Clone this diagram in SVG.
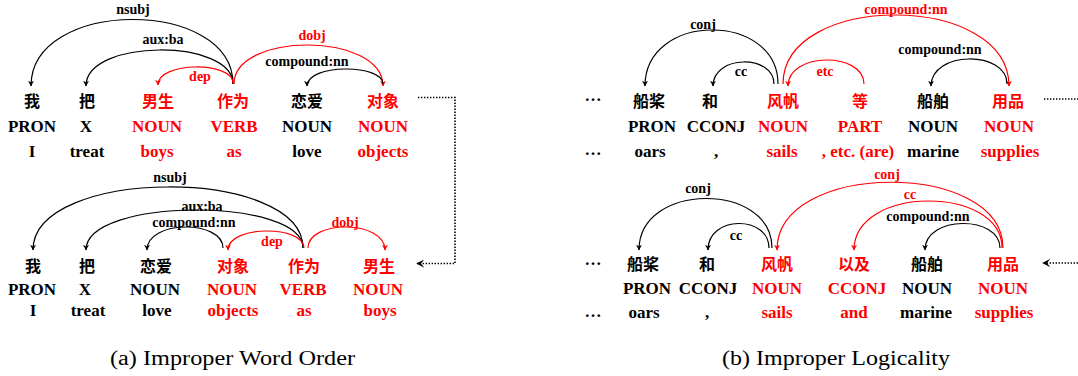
<svg xmlns="http://www.w3.org/2000/svg" width="1078" height="376" viewBox="0 0 1078 376">
<style>
  .zh{font-family:"Noto Sans CJK SC","Noto Sans CJK JP",sans-serif;font-weight:700;font-size:16px;text-anchor:middle;dominant-baseline:central}
  .pos,.en{font-family:"Liberation Serif","Times New Roman",serif;font-weight:700;font-size:17px;text-anchor:middle}
  .lab{font-family:"Liberation Serif","Times New Roman",serif;font-weight:700;font-size:14px;text-anchor:middle}
  .cap{font-family:"Liberation Serif","Times New Roman",serif;font-size:20px}
  .k{fill:#000}
  .r{fill:#ff0000}
  .arc{fill:none;stroke-width:1.2}
  .ak{stroke:#000;marker-end:url(#ahk)}
  .ar{stroke:#ff0000;marker-end:url(#ahr)}
  .dot{fill:none;stroke:#000;stroke-width:1.6;stroke-dasharray:1.4 1.6}
</style>
<defs>
  <marker id="ahk" viewBox="0 0 10 10" refX="9" refY="5" markerWidth="6" markerHeight="6" markerUnits="userSpaceOnUse" orient="auto">
    <path d="M0,0 L10,5 L0,10 L3,5 z" fill="#000"/>
  </marker>
  <marker id="ahr" viewBox="0 0 10 10" refX="9" refY="5" markerWidth="6" markerHeight="6" markerUnits="userSpaceOnUse" orient="auto">
    <path d="M0,0 L10,5 L0,10 L3,5 z" fill="#ff0000"/>
  </marker>
  <marker id="ahd" viewBox="0 0 10 10" refX="9" refY="5" markerWidth="8" markerHeight="8" markerUnits="userSpaceOnUse" orient="auto">
    <path d="M0,0 L10,5 L0,10 L4,5 z" fill="#000"/>
  </marker>
</defs>

<!-- Panel (a) top -->
<g id="a1-w1"><text class="zh k" x="32" y="99.5">我</text><text class="pos k" x="32" y="131.5">PRON</text><text class="en k" x="32" y="156.5">I</text></g>
<g id="a1-w2"><text class="zh k" x="87" y="99.5">把</text><text class="pos k" x="86" y="131.5">X</text><text class="en k" x="87" y="156.5">treat</text></g>
<g id="a1-w3"><text class="zh r" x="158" y="99.5">男生</text><text class="pos r" x="157" y="131.5">NOUN</text><text class="en r" x="157" y="156.5">boys</text></g>
<g id="a1-w4"><text class="zh r" x="233" y="99.5">作为</text><text class="pos r" x="234" y="131.5">VERB</text><text class="en r" x="234" y="156.5">as</text></g>
<g id="a1-w5"><text class="zh k" x="307" y="99.5">恋爱</text><text class="pos k" x="307" y="131.5">NOUN</text><text class="en k" x="307" y="156.5">love</text></g>
<g id="a1-w6"><text class="zh r" x="383" y="99.5">对象</text><text class="pos r" x="383" y="131.5">NOUN</text><text class="en r" x="383" y="156.5">objects</text></g>

<!-- Panel (a) bottom -->
<g id="a2-w1"><text class="zh k" x="33" y="264.5">我</text><text class="pos k" x="32" y="295">PRON</text><text class="en k" x="33" y="316">I</text></g>
<g id="a2-w2"><text class="zh k" x="87" y="264.5">把</text><text class="pos k" x="85" y="295">X</text><text class="en k" x="88" y="316">treat</text></g>
<g id="a2-w3"><text class="zh k" x="156" y="264.5">恋爱</text><text class="pos k" x="155" y="295">NOUN</text><text class="en k" x="157" y="316">love</text></g>
<g id="a2-w4"><text class="zh r" x="233" y="264.5">对象</text><text class="pos r" x="232" y="295">NOUN</text><text class="en r" x="233" y="316">objects</text></g>
<g id="a2-w5"><text class="zh r" x="304" y="264.5">作为</text><text class="pos r" x="303" y="295">VERB</text><text class="en r" x="304" y="316">as</text></g>
<g id="a2-w6"><text class="zh r" x="379" y="264.5">男生</text><text class="pos r" x="378" y="295">NOUN</text><text class="en r" x="380" y="316">boys</text></g>

<!-- Panel (b) top -->
<g id="b1-w0"><text class="pos k" x="593" y="101">…</text><text class="pos k" x="593" y="155">…</text></g>
<g id="b1-w1"><text class="zh k" x="649" y="99.5">船桨</text><text class="pos k" x="652" y="131.5">PRON</text><text class="en k" x="650" y="156.5">oars</text></g>
<g id="b1-w2"><text class="zh k" x="710" y="99.5">和</text><text class="pos k" x="716" y="131.5">CCONJ</text><text class="en k" x="716" y="156.5">,</text></g>
<g id="b1-w3"><text class="zh r" x="783" y="99.5">风帆</text><text class="pos r" x="783" y="131.5">NOUN</text><text class="en r" x="782" y="156.5">sails</text></g>
<g id="b1-w4"><text class="zh r" x="860" y="99.5">等</text><text class="pos r" x="860" y="131.5">PART</text><text class="en r" x="858" y="156.5">, etc. (are)</text></g>
<g id="b1-w5"><text class="zh k" x="933" y="99.5">船舶</text><text class="pos k" x="933" y="131.5">NOUN</text><text class="en k" x="933" y="156.5">marine</text></g>
<g id="b1-w6"><text class="zh r" x="1008" y="99.5">用品</text><text class="pos r" x="1009" y="131.5">NOUN</text><text class="en r" x="1010" y="156.5">supplies</text></g>

<!-- Panel (b) bottom -->
<g id="b2-w0"><text class="pos k" x="593" y="265">…</text><text class="pos k" x="593" y="317">…</text></g>
<g id="b2-w1"><text class="zh k" x="643" y="263">船桨</text><text class="pos k" x="647" y="294">PRON</text><text class="en k" x="644" y="318">oars</text></g>
<g id="b2-w2"><text class="zh k" x="707" y="263">和</text><text class="pos k" x="708" y="294">CCONJ</text><text class="en k" x="707" y="318">,</text></g>
<g id="b2-w3"><text class="zh r" x="777" y="263">风帆</text><text class="pos r" x="777" y="294">NOUN</text><text class="en r" x="777" y="318">sails</text></g>
<g id="b2-w4"><text class="zh r" x="854" y="263">以及</text><text class="pos r" x="857" y="294">CCONJ</text><text class="en r" x="854" y="318">and</text></g>
<g id="b2-w5"><text class="zh k" x="927" y="263">船舶</text><text class="pos k" x="927" y="294">NOUN</text><text class="en k" x="926" y="318">marine</text></g>
<g id="b2-w6"><text class="zh r" x="1003" y="263">用品</text><text class="pos r" x="1003" y="294">NOUN</text><text class="en r" x="1004" y="318">supplies</text></g>

<!-- Connectors -->
<g id="connectors">
  <!-- (a) top -->
  <path class="arc ak" d="M233,84 C233,-2.3 31,-2.3 31,86"/>
  <path class="arc ak" d="M233,84 C233,38.3 86,38.3 86,86"/>
  <path class="arc ar" d="M233,83 C233,61.3 158,61.3 158,85"/>
  <path class="arc ar" d="M234,84 C234,31.7 383,31.7 383,86"/>
  <path class="arc ak" d="M383,84 C383,63.7 307,63.7 307,86"/>
  <!-- (a) bottom -->
  <path class="arc ak" d="M303,248 C303,166.3 33,166.3 33,250"/>
  <path class="arc ak" d="M303,248 C303,197 86,197 86,250"/>
  <path class="arc ak" d="M223,248 C223,219.7 147,219.7 147,250"/>
  <path class="arc ar" d="M304,248 C304,225 228,225 228,250"/>
  <path class="arc ar" d="M308,248 C308,219.7 385,219.7 385,250"/>
  <!-- (b) top -->
  <path class="arc ak" d="M778,84 C778,11.7 645,11.7 645,86"/>
  <path class="arc ak" d="M774,84 C774,54.3 713,54.3 713,86"/>
  <path class="arc ar" d="M864,84 C864,51.7 788,51.7 788,86"/>
  <path class="arc ar" d="M783,84 C783,-8.3 1009,-8.3 1009,86"/>
  <path class="arc ak" d="M1007,84 C1007,50.3 931,50.3 931,86"/>
  <!-- (b) bottom -->
  <path class="arc ak" d="M772,248 C772,181.7 639,181.7 639,250"/>
  <path class="arc ak" d="M769,248 C769,215 708,215 708,250"/>
  <path class="arc ar" d="M1003,248 C1003,160 777,160 777,250"/>
  <path class="arc ar" d="M1002,248 C1002,185 854,185 854,250"/>
  <path class="arc ak" d="M1000,248 C1000,215 925,215 925,250"/>
  <!-- dotted transitions -->
  <path class="dot" d="M418,97.5 L455,97.5 L455,263.5 L417,263.5" marker-end="url(#ahd)"/>
  <path class="dot" d="M1044,99 L1078,99"/>
  <path class="dot" d="M1078,263 L1043,263" marker-end="url(#ahd)"/>
</g>

<!-- Arc labels -->
<g id="labels">
  <text class="lab k" x="133" y="14">nsubj</text>
  <text class="lab k" x="163" y="44">aux:ba</text>
  <text class="lab r" x="200" y="81">dep</text>
  <text class="lab r" x="312" y="39.5">dobj</text>
  <text class="lab k" x="307" y="66">compound:nn</text>

  <text class="lab k" x="170" y="182">nsubj</text>
  <text class="lab k" x="202" y="210.5">aux:ba</text>
  <text class="lab k" x="194" y="226.5">compound:nn</text>
  <text class="lab r" x="272" y="245.5">dep</text>
  <text class="lab r" x="345" y="226.5">dobj</text>

  <text class="lab k" x="703" y="28.5">conj</text>
  <text class="lab k" x="741" y="76">cc</text>
  <text class="lab r" x="825" y="76">etc</text>
  <text class="lab r" x="906" y="13.5">compound:nn</text>
  <text class="lab k" x="940" y="54">compound:nn</text>

  <text class="lab k" x="698" y="192.5">conj</text>
  <text class="lab k" x="736" y="240">cc</text>
  <text class="lab r" x="887" y="178.5">conj</text>
  <text class="lab r" x="910" y="199">cc</text>
  <text class="lab k" x="928" y="221">compound:nn</text>
</g>

<!-- Captions -->
<text class="cap k" x="110" y="365" textLength="245" lengthAdjust="spacingAndGlyphs">(a)  Improper Word Order</text>
<text class="cap k" x="722" y="365" textLength="228" lengthAdjust="spacingAndGlyphs">(b)  Improper Logicality</text>
</svg>
